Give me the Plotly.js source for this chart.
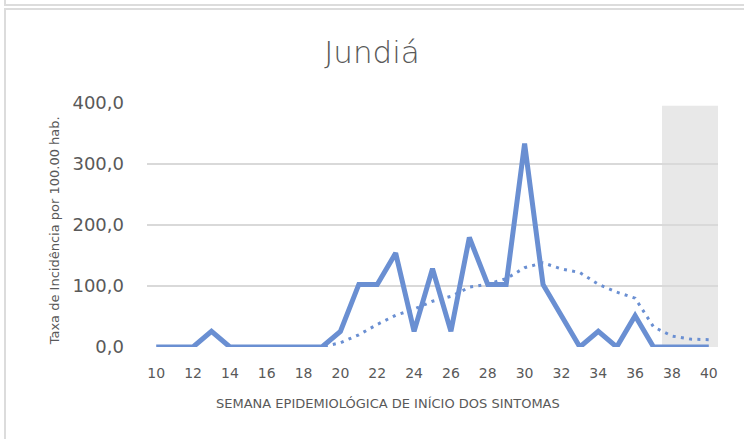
<!DOCTYPE html>
<html>
<head>
<meta charset="utf-8">
<script src="https://cdn.plot.ly/plotly-3.0.1.min.js"></script>
<style>
  html, body { margin: 0; padding: 0; background: #fff; }
  #wrap { position: relative; width: 744px; height: 439px; overflow: hidden; }
  #chart { position: absolute; left: 0; top: 0; width: 744px; height: 439px; }
  .b { position: absolute; background: #dcdcdc; pointer-events: none; }
</style>
</head>
<body>
<div id="wrap">
  <div id="chart"></div>
  <div class="b" style="left:4px;top:0;width:2px;height:5px;"></div>
  <div class="b" style="left:4px;top:4px;width:740px;height:2px;"></div>
  <div class="b" style="left:4px;top:8px;width:740px;height:2px;"></div>
  <div class="b" style="left:4px;top:8px;width:2px;height:431px;"></div>
</div>
<script>
const weeks = [10,11,12,13,14,15,16,17,18,19,20,21,22,23,24,25,26,27,28,29,30,31,32,33,34,35,36,37,38,39,40];
const incidence = [0,0,0,25.6,0,0,0,0,0,0,25.6,102.6,102.6,153.9,25.6,128.2,25.6,179.5,102.6,102.6,333.4,102.6,51.3,0,25.6,0,51.3,0,0,0,0];
const avgWeeks = [16,17,18,19,20,21,22,23,24,25,26,27,28,29,30,31,32,33,34,35,36,37,38,39,40];
const avgValues = [0,0,0,0,7,20,37,52,62,75,83,98,103,112,130,138,128,122,103,90,80,33,18,13,12];
const xTicks = [10,12,14,16,18,20,22,24,26,28,30,32,34,36,38,40];
const yTicks = [0,100,200,300,400];
const titleText = "Jundiá";
const xTitle = "SEMANA EPIDEMIOLÓGICA DE INÍCIO DOS SINTOMAS";
const yTitle = "Taxa de Incidência por 100.00 hab.";
const shadeRange = [37.46, 40.55];
const shadeTop = 395.5;

const font = "DejaVu Sans, sans-serif";
const grey = "#595959";
const blue = "#6a8fd2";

const traces = [
  { x: avgWeeks, y: avgValues, type: "scatter", mode: "lines",
    line: { color: blue, width: 3, dash: "3px,5.3px" }, hoverinfo: "skip" },
  { x: weeks, y: incidence, type: "scatter", mode: "lines",
    line: { color: blue, width: 5, shape: "linear" }, hoverinfo: "skip" }
];

const layout = {
  width: 744, height: 439,
  margin: { l: 146.7, r: 26, t: 103, b: 92, pad: 0 },
  paper_bgcolor: "rgba(0,0,0,0)", plot_bgcolor: "rgba(0,0,0,0)",
  showlegend: false,
  separators: ",.",
  title: { text: titleText, font: { family: font, size: 31, color: grey, weight: 200 },
           x: 0.5, xref: "container", xanchor: "center", y: 1 - 52/439, yref: "container", yanchor: "middle" },
  xaxis: {
    range: [9.5, 40.5], tickmode: "array", tickvals: xTicks, ticktext: xTicks.map(String),
    showgrid: false, zeroline: false, showline: false, ticks: "",
    tickfont: { family: font, size: 14, color: grey }, ticklabelstandoff: 16
  },
  yaxis: {
    range: [0, 400], tickmode: "array", tickvals: yTicks, tickformat: ".1f",
    showgrid: true, gridcolor: "#d9d9d9", gridwidth: 2, zeroline: false, showline: false, ticks: "",
    tickfont: { family: font, size: 18, color: grey }, ticklabelstandoff: 22
  },
  shapes: [
    { type: "rect", xref: "x", yref: "y", x0: shadeRange[0], x1: shadeRange[1], y0: 0, y1: shadeTop,
      fillcolor: "#e8e8e8", line: { width: 0 }, layer: "below" }
  ],
  annotations: [
    { text: xTitle, xref: "paper", yref: "paper", x: (388-146.7)/571.3, y: (347-403)/244,
      xanchor: "center", yanchor: "middle", showarrow: false,
      font: { family: font, size: 13, color: grey } },
    { text: yTitle, xref: "paper", yref: "paper", x: (54-146.7)/571.3, y: (347-231)/244,
      xanchor: "center", yanchor: "middle", showarrow: false, textangle: -90,
      font: { family: font, size: 13, color: grey } }
  ]
};

Plotly.newPlot("chart", traces, layout, { staticPlot: true, displayModeBar: false });
</script>
</body>
</html>
